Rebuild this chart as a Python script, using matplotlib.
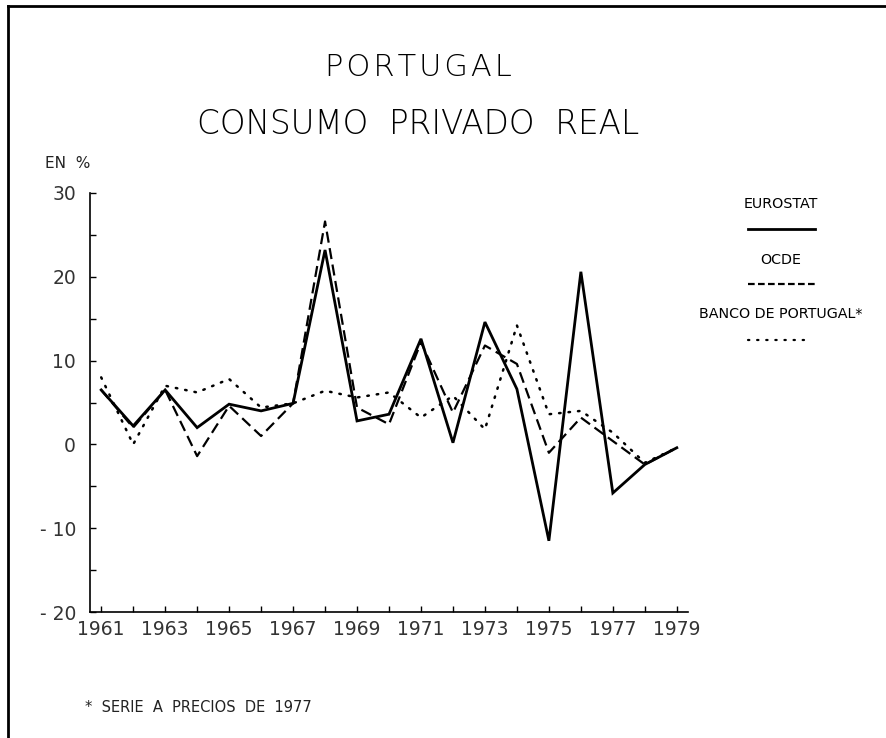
import numpy as np
import matplotlib.pyplot as plt
from matplotlib.lines import Line2D

years = list(range(1961, 1980))
eurostat = [6.5, 2.2, 6.5, 2.0, 4.8, 4.0, 4.9, 23.2, 2.8, 3.6, 12.6, 0.2, 14.6, 6.6, -11.5, 20.6, -5.8, -2.4, -0.4]
ocde = [6.5, 2.0, 6.5, -1.4, 4.6, 1.0, 4.9, 26.6, 4.4, 2.4, 12.2, 3.8, 11.8, 9.6, -1.0, 3.2, 0.4, -2.4, -0.4]
banco = [8.0, 0.0, 7.0, 6.2, 7.8, 4.4, 4.9, 6.4, 5.6, 6.2, 3.2, 5.8, 1.8, 14.2, 3.6, 4.0, 1.4, -2.2, -0.4]

ytick_vals = [-20, -10, 0, 10, 20, 30]
ytick_labels = ["- 20", "- 10", "0", "10", "20", "30"]
xtick_vals = list(range(1961, 1980, 2))

fig = plt.figure(figsize=(8.86, 7.38), dpi=100)
ax = fig.add_axes([90 / 886, 1 - 612 / 738, 598 / 886, 419 / 738])

ax.plot(years, eurostat, color="black", lw=2.0, solid_joinstyle="miter")
ax.plot(years, ocde, color="black", lw=1.6, dashes=(5, 2.5))
ax.plot(years, banco, color="black", lw=1.8, linestyle=(0, (0.6, 3.2)), dash_capstyle="round")

ax.set_xlim(1960.65, 1979.35)
ax.set_ylim(-20, 30)
ax.spines["top"].set_visible(False)
ax.spines["right"].set_visible(False)
ax.spines["left"].set_linewidth(1.2)
ax.spines["bottom"].set_linewidth(1.2)

ax.set_xticks(years)
ax.set_xticklabels([str(y) if y in xtick_vals else "" for y in years])
ax.set_yticks(np.arange(-20, 31, 5))
ax.set_yticklabels([ytick_labels[ytick_vals.index(v)] if v in ytick_vals else "" for v in range(-20, 31, 5)])
ax.tick_params(direction="in", length=4, width=1, labelsize=13.5, colors="black", pad=10)
ax.tick_params(axis="x", pad=6)
for lbl in ax.get_xticklabels() + ax.get_yticklabels():
    lbl.set_color("#333333")

hs = "\u200a"
fig.text(418 / 886, 1 - 68 / 738, hs.join("PORTUGAL"), ha="center", va="center",
         fontsize=22, fontweight="light", color="black")
fig.text(418 / 886, 1 - 125 / 738, "CONSUMO  PRIVADO  REAL",
         ha="center", va="center", fontsize=23.5, fontweight="light", color="black")
fig.text(45 / 886, 1 - 163 / 738, "EN  %", ha="left", va="center", fontsize=11, color="#222222")

# legend drawn by hand to the right of the plot
leg_x = 781 / 886
fig.text(leg_x, 1 - 204 / 738, "EUROSTAT", ha="center", va="center", fontsize=10.3)
fig.add_artist(Line2D([748 / 886, 815 / 886], [1 - 229 / 738] * 2, color="black", lw=2.0))
fig.text(leg_x, 1 - 260 / 738, "OCDE", ha="center", va="center", fontsize=10.3)
fig.add_artist(Line2D([748 / 886, 815 / 886], [1 - 284 / 738] * 2, color="black", lw=1.6, dashes=(3, 1.5)))
fig.text(leg_x, 1 - 314 / 738, "BANCO DE PORTUGAL*", ha="center", va="center", fontsize=10.3)
fig.add_artist(Line2D([748 / 886, 810 / 886], [1 - 340 / 738] * 2, color="black", lw=1.6,
                      linestyle=(0, (0.6, 3.5)), dash_capstyle="round"))

fig.text(85 / 886, 1 - 707 / 738, "*  SERIE  A  PRECIOS  DE  1977", ha="left", va="center", fontsize=10.5, color="#222222")

# page frame
fig.add_artist(Line2D([8 / 886, 1.0], [1 - 6 / 738] * 2, color="black", lw=2))
fig.add_artist(Line2D([8 / 886] * 2, [0, 1 - 6 / 738], color="black", lw=2))

fig.savefig("out.png", dpi=100)
